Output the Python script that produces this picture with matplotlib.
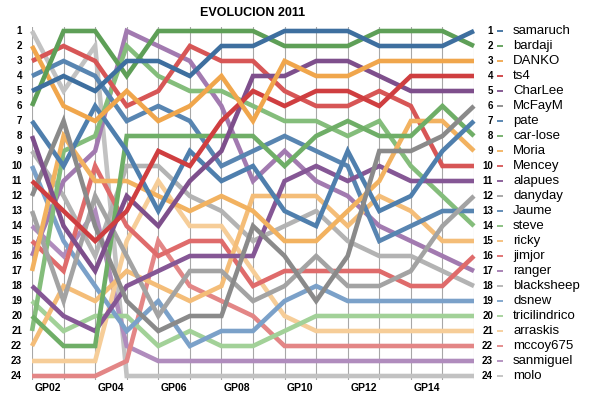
import matplotlib
matplotlib.use("Agg")
import matplotlib.pyplot as plt
from matplotlib.transforms import blended_transform_factory

plt.rcParams['font.family'] = ['Liberation Sans', 'DejaVu Sans']

gps = ["GP%02d" % i for i in range(1, 16)]
tick_labels = ["GP02", "GP04", "GP06", "GP08", "GP10", "GP12", "GP14"]

# rank per GP (GP01..GP15), listed in final order
samaruch = [5, 4, 5, 3, 3, 4, 2, 2, 1, 1, 1, 2, 2, 2, 1]
bardaji = [6, 1, 1, 4, 1, 1, 1, 1, 2, 2, 2, 1, 1, 1, 2]
danko = [2, 6, 7, 5, 7, 6, 4, 7, 3, 4, 4, 3, 3, 3, 3]
ts4 = [11, 13, 15, 13, 9, 10, 7, 5, 6, 5, 5, 6, 4, 4, 4]
charlee = [8, 14, 17, 12, 14, 11, 9, 4, 4, 3, 3, 4, 5, 5, 5]
mcfaym = [12, 7, 14, 19, 21, 20, 20, 14, 16, 19, 16, 9, 9, 8, 6]
pate = [7, 10, 6, 9, 13, 9, 11, 10, 13, 14, 9, 13, 12, 9, 7]
car_lose = [20, 22, 22, 8, 8, 8, 8, 8, 10, 8, 7, 8, 8, 6, 8]
moria = [17, 8, 11, 11, 12, 13, 12, 13, 15, 15, 13, 11, 7, 7, 9]
mencey = [3, 2, 3, 6, 5, 2, 3, 3, 5, 6, 6, 5, 6, 10, 10]
alapues = [18, 20, 21, 18, 17, 16, 16, 16, 11, 10, 11, 10, 11, 11, 11]
danyday = [13, 19, 12, 16, 20, 17, 17, 19, 18, 16, 18, 18, 17, 14, 12]
jaume = [4, 3, 4, 7, 6, 7, 10, 9, 8, 9, 10, 15, 14, 13, 13]
steve = [21, 9, 8, 2, 4, 5, 5, 6, 7, 7, 8, 7, 10, 12, 14]
ricky = [22, 18, 19, 17, 18, 19, 18, 12, 12, 12, 14, 12, 13, 15, 15]
jimjor = [15, 17, 10, 14, 16, 15, 15, 18, 17, 17, 17, 17, 18, 18, 16]
ranger = [16, 11, 9, 1, 2, 3, 6, 11, 9, 11, 12, 14, 15, 16, 17]
blacksheep = [9, 12, 16, 10, 10, 12, 13, 15, 14, 13, 15, 16, 16, 17, 18]
dsnew = [10, 15, 18, 21, 19, 22, 21, 21, 19, 18, 19, 19, 19, 19, 19]
tricilindrico = [19, 21, 20, 20, 22, 21, 22, 22, 21, 20, 20, 20, 20, 20, 20]
arraskis = [23, 23, 23, 15, 11, 14, 14, 17, 20, 21, 21, 21, 21, 21, 21]
mccoy675 = [24, 24, 24, 23, 15, 18, 19, 20, 22, 22, 22, 22, 22, 22, 22]
sanmiguel = [14, 16, 13, 22, 23, 23, 23, 23, 23, 23, 23, 23, 23, 23, 23]
molo = [1, 5, 2, 24, 24, 24, 24, 24, 24, 24, 24, 24, 24, 24, 24]

names = ["samaruch", "bardaji", "DANKO", "ts4", "CharLee", "McFayM", "pate",
         "car-lose", "Moria", "Mencey", "alapues", "danyday", "Jaume", "steve",
         "ricky", "jimjor", "ranger", "blacksheep", "dsnew", "tricilindrico",
         "arraskis", "mccoy675", "sanmiguel", "molo"]
ranks = [samaruch, bardaji, danko, ts4, charlee, mcfaym, pate, car_lose, moria,
         mencey, alapues, danyday, jaume, steve, ricky, jimjor, ranger,
         blacksheep, dsnew, tricilindrico, arraskis, mccoy675, sanmiguel, molo]
colors = ["#3e6f9f", "#5e9f57", "#f0a64c", "#cf3e40", "#7e4f8c", "#8a8a8a",
          "#4f7fad", "#6fae67", "#f2b260", "#d75656", "#855795", "#a3a3a3",
          "#5885b1", "#84bd7b", "#f4bd78", "#df6b6b", "#a27ab0", "#b3b3b3",
          "#7ba1c9", "#a2d198", "#f6cd98", "#e38686", "#b08cbd", "#c2c2c2"]

W, H = 596, 399
fig = plt.figure(figsize=(W / 100, H / 100), dpi=100)
x0, x1 = 32, 474
top_px = 31 - 0.25 * 15
bot_px = 376 + 0.25 * 15
ax = fig.add_axes([x0 / W, 1 - bot_px / H, (x1 - x0) / W, (bot_px - top_px) / H])
ax.set_xlim(1, 15)
ax.set_ylim(24.25, 0.75)
ax.axis("off")

xs = list(range(1, 16))
for x in xs:
    ax.axvline(x, color="#a8a8a8", lw=0.8, zorder=0)

for i in reversed(range(len(names))):
    ax.plot(xs, ranks[i], color=colors[i], lw=3.3, solid_joinstyle="miter",
            solid_capstyle="butt", clip_on=False, zorder=2)

ytr = ax.get_yaxis_transform()
aw = x1 - x0
for r in range(1, 25):
    ax.text(-10 / aw, r, str(r), transform=ytr, ha="right", va="center",
            fontsize=7, fontweight="bold")

tr = blended_transform_factory(ax.transAxes, ax.transData)
final = [rk[-1] for rk in ranks]
for name, c, r in zip(names, colors, final):
    ax.text(1 + 19 / aw, r, str(r), transform=tr, ha="right", va="center",
            fontsize=7, fontweight="bold")
    ax.plot([1 + 23 / aw, 1 + 29 / aw], [r, r], transform=tr, color=c,
            lw=1.3, clip_on=False, solid_capstyle="butt")
    ax.text(1 + 39 / aw, r, name, transform=tr, ha="left", va="center",
            fontsize=9.5)

xtr = ax.get_xaxis_transform()
for lab in tick_labels:
    k = gps.index(lab) + 1
    ax.text(k - 0.5, -8 / (bot_px - top_px), lab, transform=xtr, ha="center",
            va="center", fontsize=7.5, fontweight="bold")

fig.text(253 / W, 1 - 13 / H, "EVOLUCION 2011", ha="center", va="center",
         fontsize=9, fontweight="bold")

fig.savefig("out.png", dpi=100)
